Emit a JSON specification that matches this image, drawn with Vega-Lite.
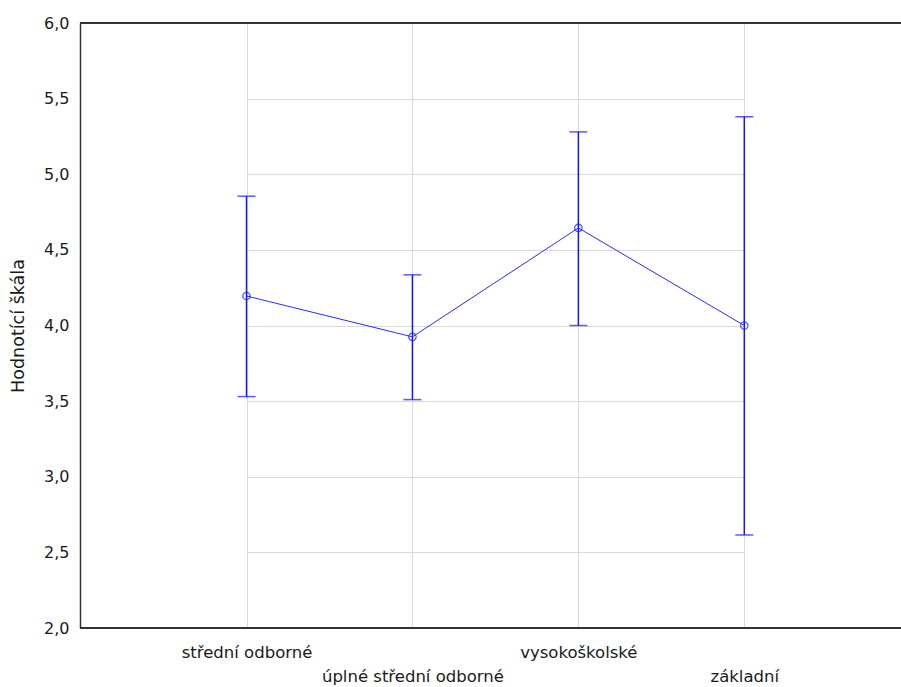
{
  "$schema": "https://vega.github.io/schema/vega-lite/v6.json",
  "autosize": {"type": "none"},
  "padding": {"left": 80, "top": 23, "right": 0, "bottom": 59},
  "width": 821,
  "height": 605,
  "background": "white",
  "config": {
    "view": {"stroke": null},
    "axis": {
      "labelFont": "DejaVu Sans",
      "titleFont": "DejaVu Sans",
      "labelColor": "#1a1a1a",
      "titleColor": "#1a1a1a",
      "gridColor": "#dadada",
      "gridWidth": 1,
      "domainColor": "#333333",
      "domainWidth": 1.5,
      "ticks": false
    }
  },
  "data": {
    "values": [
      {"vzdelani": "střední odborné", "mean": 4.195, "low": 3.53, "high": 4.855},
      {"vzdelani": "úplné střední odborné", "mean": 3.925, "low": 3.51, "high": 4.335},
      {"vzdelani": "vysokoškolské", "mean": 4.645, "low": 4.0, "high": 5.28},
      {"vzdelani": "základní", "mean": 4.0, "low": 2.615, "high": 5.38}
    ]
  },
  "encoding": {
    "x": {
      "field": "vzdelani",
      "type": "nominal",
      "sort": null,
      "scale": {"type": "point", "range": [166.5, 664.3], "padding": 0},
      "axis": {
        "title": null,
        "labelAngle": 0,
        "labelFontSize": 16.5,
        "labelLineHeight": 24,
        "labelPadding": 16,
        "labelLimit": 0,
        "domain": false,
        "grid": true,
        "labelExpr": "indexof(['úplné střední odborné','základní'], datum.value) >= 0 ? ['', datum.label] : datum.label"
      }
    }
  },
  "layer": [
    {
      "mark": {"type": "rule", "color": "#333333", "strokeWidth": 1.5},
      "encoding": {"y": {"datum": 6}, "x": null}
    },
    {
      "mark": {"type": "rule", "color": "#333333", "strokeWidth": 1.5},
      "encoding": {"y": {"datum": 2}, "x": null}
    },
    {
      "mark": {"type": "rule", "color": "#1414ff", "strokeWidth": 1.5},
      "encoding": {
        "y": {
          "field": "low",
          "type": "quantitative",
          "scale": {"domain": [2, 6], "nice": false, "zero": false},
          "axis": {
            "title": "Hodnotící škála",
            "titleFontSize": 17.5,
            "titleFontWeight": "normal",
            "titleX": -62,
            "titleBaseline": "middle",
            "values": [2, 2.5, 3, 3.5, 4, 4.5, 5, 5.5, 6],
            "labelExpr": "replace(format(datum.value, '.1f'), '.', ',')",
            "labelFontSize": 16,
            "labelPadding": 11,
            "grid": true
          }
        },
        "y2": {"field": "high"}
      }
    },
    {
      "mark": {"type": "tick", "color": "#1414ff", "thickness": 1.5, "size": 18, "orient": "horizontal"},
      "encoding": {"y": {"field": "low", "type": "quantitative"}}
    },
    {
      "mark": {"type": "tick", "color": "#1414ff", "thickness": 1.5, "size": 18, "orient": "horizontal"},
      "encoding": {"y": {"field": "high", "type": "quantitative"}}
    },
    {
      "mark": {"type": "line", "color": "#2a2aff", "strokeWidth": 1},
      "encoding": {"y": {"field": "mean", "type": "quantitative"}}
    },
    {
      "mark": {"type": "point", "shape": "circle", "filled": false, "color": "#1414ff", "size": 55, "strokeWidth": 1.3},
      "encoding": {"y": {"field": "mean", "type": "quantitative"}}
    }
  ]
}
